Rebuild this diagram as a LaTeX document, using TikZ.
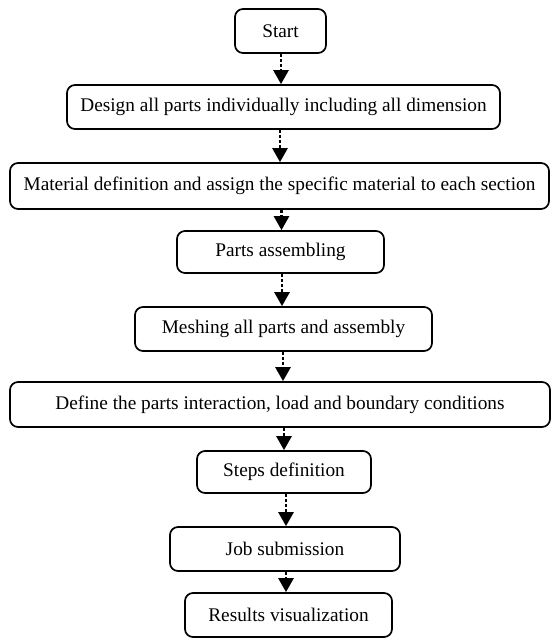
\documentclass[tikz,border=0pt]{standalone}
\usepackage{fontspec}
\setmainfont{Liberation Serif}
\usetikzlibrary{arrows.meta}
\begin{document}
\begin{tikzpicture}[x=1pt,y=-1pt,
  box/.style={draw=black, line width=1.7pt, rounded corners=8pt, inner sep=0pt,
    font=\fontsize{19.3}{21}\selectfont, align=center},
  flow/.style={line width=2.6pt, dash pattern=on 3pt off 2pt,
    -{Triangle[width=15pt,length=14pt]}}]
\useasboundingbox (0,0) rectangle (553,638);
\node[box, minimum width=91pt, minimum height=44pt] (n1) at (280.5,31) {Start};
\node[box, minimum width=433pt, minimum height=44pt] (n2) at (283.5,107) {Design all parts individually including all dimension};
\node[box, minimum width=539pt, minimum height=46pt] (n3) at (279.5,186) {Material definition and assign the specific material to each section};
\node[box, minimum width=207pt, minimum height=42pt] (n4) at (280.5,252) {Parts assembling};
\node[box, minimum width=297pt, minimum height=44pt] (n5) at (283.5,329) {Meshing all parts and assembly};
\node[box, minimum width=540pt, minimum height=45pt] (n6) at (280,404.5) {Define the parts interaction, load and boundary conditions};
\node[box, minimum width=174pt, minimum height=42pt] (n7) at (284,472) {Steps definition};
\node[box, minimum width=230pt, minimum height=44pt] (n8) at (285,549) {Job submission};
\node[box, minimum width=207pt, minimum height=44pt] (n9) at (288.5,615) {Results visualization};
\coordinate (c1) at (281,0);
\coordinate (c2) at (280,0);
\coordinate (c3) at (281.5,0);
\coordinate (c4) at (282,0);
\coordinate (c5) at (283,0);
\coordinate (c6) at (284,0);
\coordinate (c7) at (286,0);
\coordinate (c8) at (286,0);
\draw[flow] (n1.south -| c1) -- (n2.north -| c1);
\draw[flow] (n2.south -| c2) -- (n3.north -| c2);
\draw[flow] (n3.south -| c3) -- (n4.north -| c3);
\draw[flow] (n4.south -| c4) -- (n5.north -| c4);
\draw[flow] (n5.south -| c5) -- (n6.north -| c5);
\draw[flow] (n6.south -| c6) -- (n7.north -| c6);
\draw[flow] (n7.south -| c7) -- (n8.north -| c7);
\draw[flow] (n8.south -| c8) -- (n9.north -| c8);
\end{tikzpicture}
\end{document}
